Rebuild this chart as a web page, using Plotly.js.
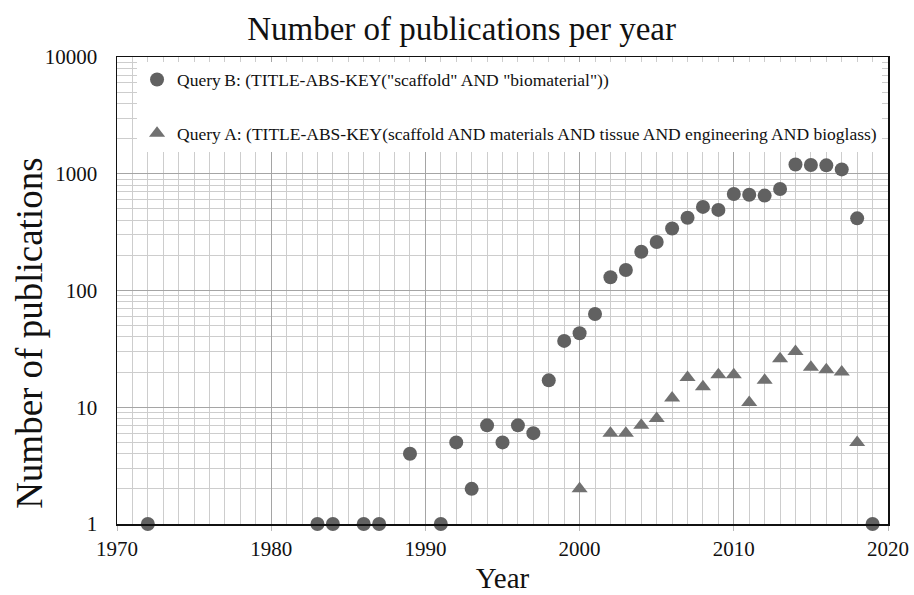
<!DOCTYPE html>
<html>
<head>
<meta charset="utf-8">
<script src="https://cdn.plot.ly/plotly-3.0.1.min.js"></script>
<style>html,body{margin:0;padding:0;background:#fff;}#chart{width:914px;height:595px;}</style>
</head>
<body>
<div id="chart"></div>
<script>
const yearsB = [1972,1983,1984,1986,1987,1989,1991,1992,1993,1994,1995,1996,1997,1998,1999,2000,2001,2002,2003,2004,2005,2006,2007,2008,2009,2010,2011,2012,2013,2014,2015,2016,2017,2018,2019];
const countsB = [1,1,1,1,1,4,1,5,2,7,5,7,6,17,37,43,63,130,150,215,260,340,420,520,490,670,660,650,740,1200,1190,1180,1090,415,1];
const yearsA = [2000,2002,2003,2004,2005,2006,2007,2008,2009,2010,2011,2012,2013,2014,2015,2016,2017,2018];
const countsA = [2,6,6,7,8,12,18,15,19,19,11,17,26,30,22,21,20,5];
const nameB = 'Query\u2009B: (TITLE-ABS-KEY("scaffold" AND "biomaterial"))';
const nameA = 'Query A: (TITLE-ABS-KEY(scaffold AND materials AND tissue AND engineering AND bioglass)';
const yTickVals = [1,10,100,1000,10000];
const yTickText = ['1','10','100','1000','10000'];

const serif = 'Liberation Serif, Times New Roman, serif';

const traces = [
  {x: yearsB, y: countsB, name: nameB, type: 'scatter', mode: 'markers', legendgroup: 'b',
   marker: {symbol: 'circle', size: 14, color: '#616161'}, cliponaxis: false},
  {x: yearsA, y: countsA, name: nameA, type: 'scatter', mode: 'markers', legendgroup: 'a',
   marker: {symbol: 'triangle-up', size: 14, color: '#717171'}, cliponaxis: false}
];

const layout = {
  width: 914, height: 595,
  margin: {l: 117, r: 26, t: 57, b: 71},
  paper_bgcolor: '#fff', plot_bgcolor: '#fff',
  font: {family: serif, color: '#111'},
  title: {text: 'Number of publications per year', font: {family: serif, size: 33, color: '#111'},
          x: 0.505, xanchor: 'center', y: 0.952, yanchor: 'middle'},
  showlegend: true,
  legend: {x: 0.026, y: 0.99, xanchor: 'left', yanchor: 'top', bgcolor: '#fff', borderwidth: 0,
           font: {family: serif, size: 17.5, color: '#111'}, traceorder: 'grouped', tracegroupgap: 28,
           itemwidth: 30},
  annotations: [{
    text: 'Number of publications', xref: 'paper', yref: 'paper', x: -0.113, y: 0.409,
    xanchor: 'center', yanchor: 'middle', textangle: -90, showarrow: false,
    font: {family: serif, size: 37, color: '#111'}
  }],
  xaxis: {
    range: [1970, 2020], dtick: 10, tick0: 1970,
    showgrid: true, gridcolor: '#a5a5a5', gridwidth: 1,
    minor: {dtick: 1, showgrid: true, gridcolor: '#cdcdcd', gridwidth: 1},
    ticks: 'outside', ticklen: 5, tickcolor: '#bbb',
    showline: true, linecolor: '#111', linewidth: 1.5, mirror: true,
    zeroline: false,
    tickfont: {family: serif, size: 21, color: '#111'},
    title: {text: 'Year', font: {family: serif, size: 29, color: '#111'}, standoff: 8}
  },
  yaxis: {
    type: 'log', range: [0, 4],
    tickvals: yTickVals, ticktext: yTickText,
    showgrid: true, gridcolor: '#a5a5a5', gridwidth: 1,
    minor: {dtick: 'D1', showgrid: true, gridcolor: '#cdcdcd', gridwidth: 1},
    ticks: '', ticklabelstandoff: 14,
    showline: true, linecolor: '#111', linewidth: 1.5, mirror: true,
    zeroline: false,
    tickfont: {family: serif, size: 21, color: '#111'}
  }
};

Plotly.newPlot('chart', traces, layout, {displayModeBar: false, staticPlot: true});
</script>
</body>
</html>
